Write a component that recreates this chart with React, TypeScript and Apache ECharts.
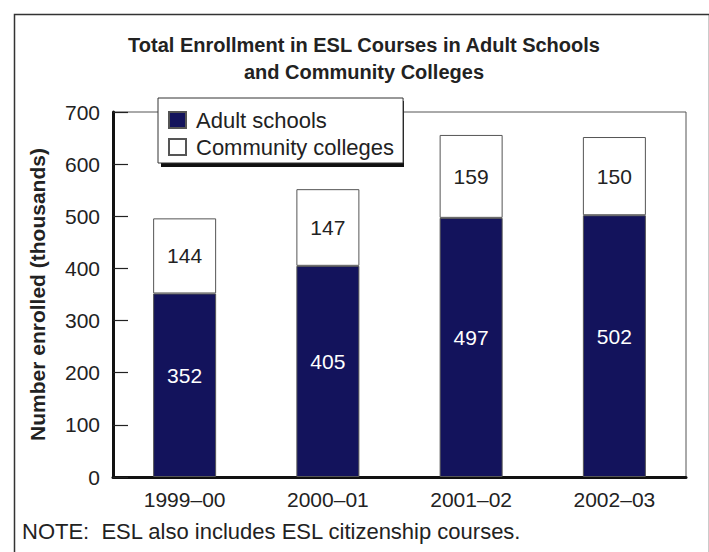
import React, { useEffect, useRef } from "react";
import * as echarts from "echarts";

const categories = ["1999–00", "2000–01", "2001–02", "2002–03"];
const adultSchools = [352, 405, 497, 502];
const communityColleges = [144, 147, 159, 150];
const seriesNames = ["Adult schools", "Community colleges"];
const yTicks = { min: 0, max: 700, interval: 100 };
const titleText = "Total Enrollment in ESL Courses in Adult Schools\nand Community Colleges";
const yAxisName = "Number enrolled (thousands)";
const noteText = "NOTE:  ESL also includes ESL citizenship courses.";

const FONT = "'Liberation Sans', Arial, Helvetica, sans-serif";
const NAVY = "#13135c";
const TEXT = "#222222";

export default function App() {
  const ref = useRef<HTMLDivElement>(null);
  useEffect(() => {
    if (!ref.current) return;
    const chart = echarts.init(ref.current, null, { renderer: "svg" });
    chart.setOption({
      animation: false,
      backgroundColor: "#ffffff",
      textStyle: { fontFamily: FONT },
      title: {
        text: titleText,
        left: 359,
        textAlign: "center",
        top: 26,
        textStyle: {
          fontFamily: FONT,
          fontSize: 20,
          fontWeight: "bold",
          color: TEXT,
          lineHeight: 27,
        },
      },
      legend: {
        orient: "vertical",
        left: 158,
        top: 98,
        padding: [11, 9, 5, 10],
        itemWidth: 17,
        itemHeight: 16,
        itemGap: 5,
        icon: "rect",
        backgroundColor: "#ffffff",
        borderColor: "#333333",
        borderWidth: 1,
        borderRadius: 0,
        textStyle: { fontFamily: FONT, fontSize: 22, color: TEXT, padding: [0, 0, 0, 5] },
        data: seriesNames,
        z: 10,
      },
      grid: {
        left: 113,
        right: 23,
        top: 112,
        bottom: 75,
        show: true,
        borderColor: "#555555",
        borderWidth: 1,
        backgroundColor: "transparent",
      },
      xAxis: {
        type: "category",
        data: categories,
        axisLine: { lineStyle: { color: "#111111", width: 3 } },
        axisTick: { inside: true, length: 17, lineStyle: { color: "#666666", width: 1.5 } },
        axisLabel: { fontFamily: FONT, fontSize: 21, color: TEXT, margin: 12 },
      },
      yAxis: {
        type: "value",
        min: yTicks.min,
        max: yTicks.max,
        interval: yTicks.interval,
        name: yAxisName,
        nameLocation: "middle",
        nameGap: 65,
        nameTextStyle: { fontFamily: FONT, fontSize: 21, fontWeight: "bold", color: TEXT },
        axisLine: { show: true, lineStyle: { color: "#111111", width: 3 } },
        axisTick: { show: true, inside: true, length: 15, lineStyle: { color: "#222222", width: 1.2 } },
        splitLine: { show: false },
        axisLabel: { fontFamily: FONT, fontSize: 21, color: TEXT, margin: 13 },
      },
      series: [
        {
          name: seriesNames[0],
          type: "bar",
          stack: "total",
          barWidth: 63,
          data: adultSchools,
          itemStyle: { color: NAVY, borderColor: "#555555", borderWidth: 1 },
          label: {
            show: true,
            position: "inside",
            offset: [0, -10],
            color: "#ffffff",
            fontFamily: FONT,
            fontSize: 21,
          },
        },
        {
          name: seriesNames[1],
          type: "bar",
          stack: "total",
          barWidth: 63,
          data: communityColleges,
          itemStyle: { color: "#ffffff", borderColor: "#555555", borderWidth: 1 },
          label: {
            show: true,
            position: "inside",
            color: TEXT,
            fontFamily: FONT,
            fontSize: 21,
          },
        },
      ],
      graphic: [
        {
          type: "rect",
          left: 12,
          top: 12,
          shape: { width: 695, height: 560 },
          style: { fill: "none", stroke: "#333333", lineWidth: 1.5 },
          silent: true,
        },
        {
          type: "rect",
          left: 161,
          top: 101,
          z: 1,
          shape: { width: 243, height: 66 },
          style: { fill: "#111111" },
          silent: true,
        },
        {
          type: "text",
          left: 22,
          top: 520,
          style: { text: noteText, fontFamily: FONT, fontSize: 22, fill: TEXT },
        },
      ],
    });
    return () => chart.dispose();
  }, []);
  return (
    <div
      ref={ref}
      style={{ position: "fixed", left: 0, top: 0, width: 709, height: 552 }}
    />
  );
}
